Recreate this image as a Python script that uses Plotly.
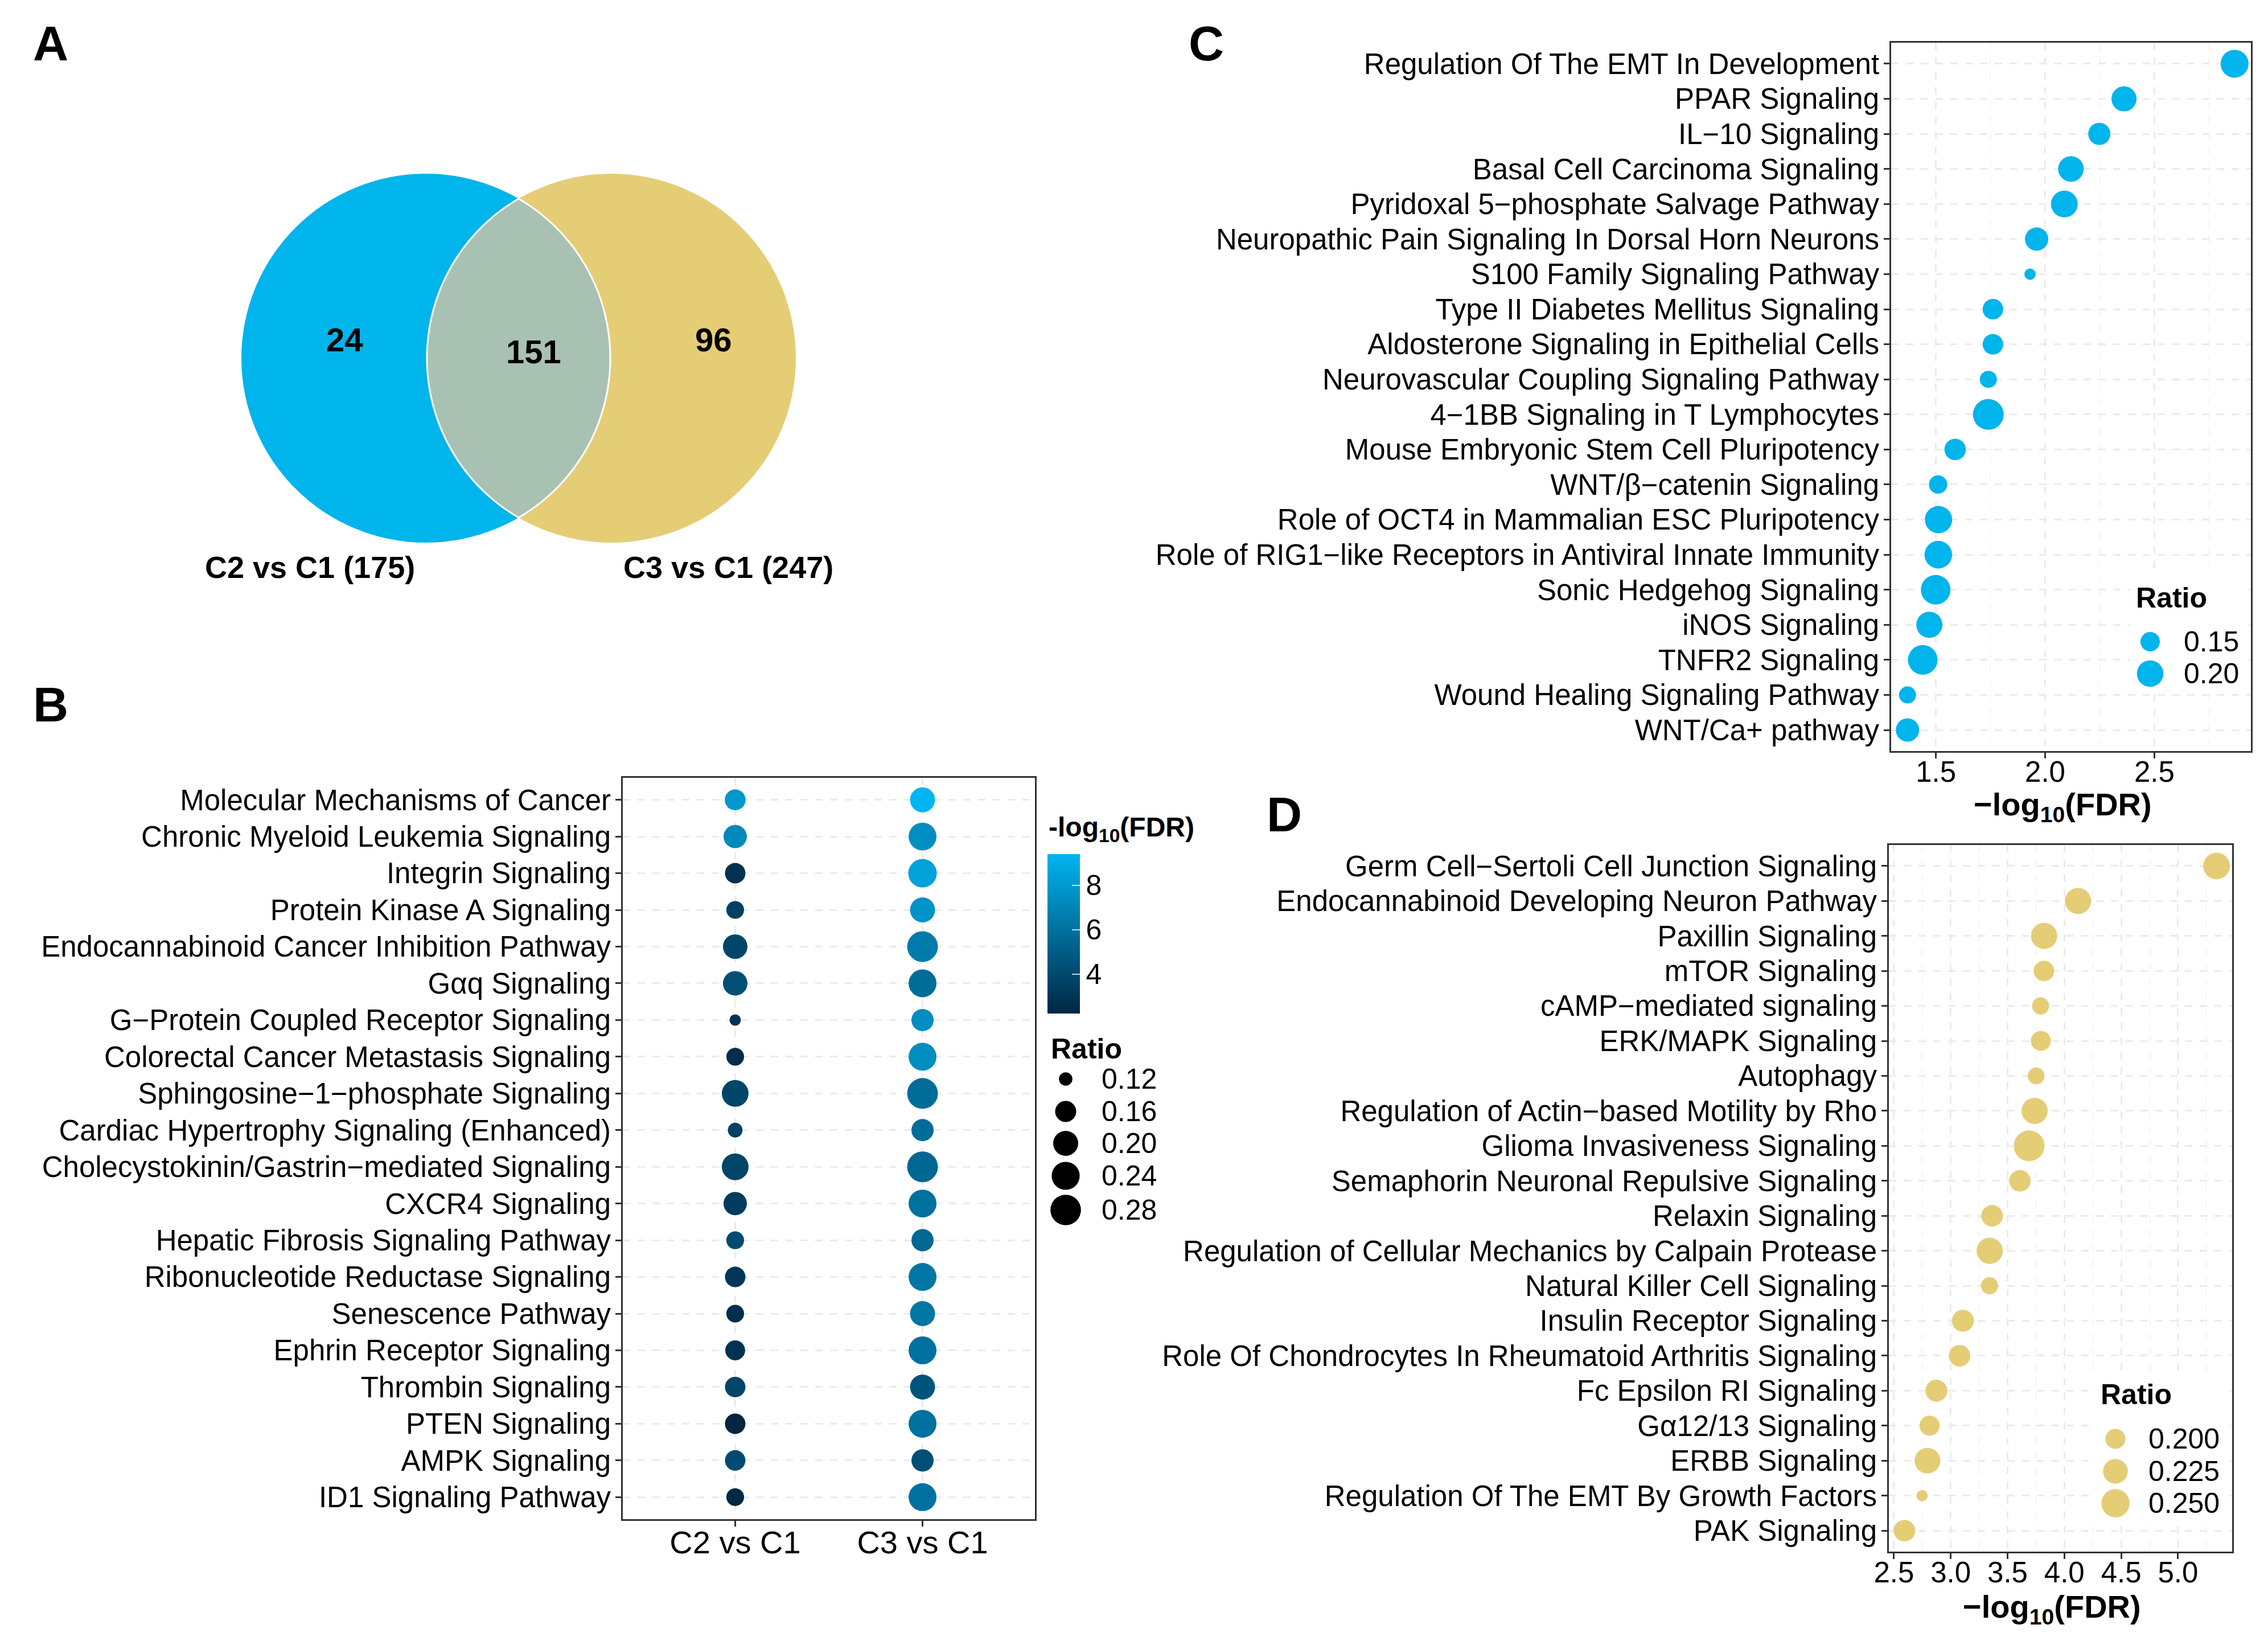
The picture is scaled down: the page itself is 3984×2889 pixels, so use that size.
import numpy as np
import plotly.graph_objects as go

W, H = 3984, 2889
FONT = "Liberation Sans, Arial, sans-serif"

# ---------------- data ----------------
venn_counts = {"only_c2": 24, "both": 151, "only_c3": 96}
venn_sets = ["C2 vs C1 (175)", "C3 vs C1 (247)"]

b_groups = ["C2 vs C1", "C3 vs C1"]
b_paths = [
    "Molecular Mechanisms of Cancer",
    "Chronic Myeloid Leukemia Signaling",
    "Integrin Signaling",
    "Protein Kinase A Signaling",
    "Endocannabinoid Cancer Inhibition Pathway",
    "Gαq Signaling",
    "G−Protein Coupled Receptor Signaling",
    "Colorectal Cancer Metastasis Signaling",
    "Sphingosine−1−phosphate Signaling",
    "Cardiac Hypertrophy Signaling (Enhanced)",
    "Cholecystokinin/Gastrin−mediated Signaling",
    "CXCR4 Signaling",
    "Hepatic Fibrosis Signaling Pathway",
    "Ribonucleotide Reductase Signaling",
    "Senescence Pathway",
    "Ephrin Receptor Signaling",
    "Thrombin Signaling",
    "PTEN Signaling",
    "AMPK Signaling",
    "ID1 Signaling Pathway",
]
b_fdr_c2 = [7.95, 7.20, 2.86, 3.59, 3.83, 4.32, 2.86, 2.62, 3.83, 3.59,
            3.83, 3.35, 4.07, 3.10, 2.62, 2.86, 3.83, 2.23, 4.07, 2.38]
b_fdr_c3 = [9.41, 7.47, 8.44, 7.71, 6.50, 5.77, 7.47, 7.47, 5.77, 5.77,
            5.53, 6.01, 5.53, 6.26, 6.26, 6.01, 4.56, 6.01, 4.32, 6.01]
b_ratio_c2 = [0.158, 0.181, 0.155, 0.136, 0.194, 0.194, 0.118, 0.136, 0.222, 0.123,
              0.222, 0.181, 0.136, 0.155, 0.136, 0.150, 0.155, 0.155, 0.155, 0.136]
b_ratio_c3 = [0.200, 0.238, 0.247, 0.200, 0.283, 0.238, 0.170, 0.238, 0.283, 0.170,
              0.283, 0.238, 0.170, 0.238, 0.200, 0.238, 0.200, 0.238, 0.170, 0.238]
b_color_ticks = [4, 6, 8]
b_ratio_breaks = [0.12, 0.16, 0.20, 0.24, 0.28]
b_ratio_labels = ["0.12", "0.16", "0.20", "0.24", "0.28"]

c_paths = [
    "Regulation Of The EMT In Development",
    "PPAR Signaling",
    "IL−10 Signaling",
    "Basal Cell Carcinoma Signaling",
    "Pyridoxal 5−phosphate Salvage Pathway",
    "Neuropathic Pain Signaling In Dorsal Horn Neurons",
    "S100 Family Signaling Pathway",
    "Type II Diabetes Mellitus Signaling",
    "Aldosterone Signaling in Epithelial Cells",
    "Neurovascular Coupling Signaling Pathway",
    "4−1BB Signaling in T Lymphocytes",
    "Mouse Embryonic Stem Cell Pluripotency",
    "WNT/β−catenin Signaling",
    "Role of OCT4 in Mammalian ESC Pluripotency",
    "Role of RIG1−like Receptors in Antiviral Innate Immunity",
    "Sonic Hedgehog Signaling",
    "iNOS Signaling",
    "TNFR2 Signaling",
    "Wound Healing Signaling Pathway",
    "WNT/Ca+ pathway",
]
c_fdr = [2.867, 2.361, 2.248, 2.118, 2.088, 1.961, 1.931, 1.761, 1.761, 1.740,
         1.740, 1.588, 1.510, 1.512, 1.511, 1.499, 1.470, 1.440, 1.370, 1.370]
c_ratio = [0.214, 0.188, 0.166, 0.192, 0.203, 0.174, 0.130, 0.156, 0.156, 0.140,
           0.245, 0.161, 0.145, 0.208, 0.211, 0.232, 0.197, 0.232, 0.140, 0.174]
c_xticks = [1.5, 2.0, 2.5]
c_ratio_breaks = [0.15, 0.20]
c_ratio_labels = ["0.15", "0.20"]

d_paths = [
    "Germ Cell−Sertoli Cell Junction Signaling",
    "Endocannabinoid Developing Neuron Pathway",
    "Paxillin Signaling",
    "mTOR Signaling",
    "cAMP−mediated signaling",
    "ERK/MAPK Signaling",
    "Autophagy",
    "Regulation of Actin−based Motility by Rho",
    "Glioma Invasiveness Signaling",
    "Semaphorin Neuronal Repulsive Signaling",
    "Relaxin Signaling",
    "Regulation of Cellular Mechanics by Calpain Protease",
    "Natural Killer Cell Signaling",
    "Insulin Receptor Signaling",
    "Role Of Chondrocytes In Rheumatoid Arthritis Signaling",
    "Fc Epsilon RI Signaling",
    "Gα12/13 Signaling",
    "ERBB Signaling",
    "Regulation Of The EMT By Growth Factors",
    "PAK Signaling",
]
d_fdr = [5.339, 4.120, 3.822, 3.820, 3.791, 3.793, 3.752, 3.738, 3.690, 3.609,
         3.364, 3.343, 3.341, 3.107, 3.078, 2.874, 2.814, 2.795, 2.748, 2.593]
d_ratio = [0.238, 0.235, 0.235, 0.202, 0.190, 0.200, 0.189, 0.235, 0.272, 0.207,
           0.207, 0.235, 0.190, 0.209, 0.207, 0.209, 0.200, 0.231, 0.182, 0.207]
d_xticks = [2.5, 3.0, 3.5, 4.0, 4.5, 5.0]
d_ratio_breaks = [0.200, 0.225, 0.250]
d_ratio_labels = ["0.200", "0.225", "0.250"]

# ---------------- styles ----------------
BLUE = "#00B4EC"
YELLOW = "#E5CD76"
LENS = "#A9C1B3"
C_LOW, C_HIGH = "#002642", "#00B5F1"
GRID = "#EBEBEB"
FRAME = "#333333"
DASH = "13px,13px"


def pxx(x):
    return x / W


def pxy(y):
    return 1 - y / H


def dot_size(v, vmin, vmax):
    v = np.asarray(v, float)
    return 19.9 + 34.1 * np.sqrt(np.clip((v - vmin) / (vmax - vmin), 0, 1))


def expand(vals):
    lo, hi = min(vals), max(vals)
    pad = (hi - lo) * 0.05
    return [lo - pad, hi + pad]


fig = go.Figure()

# ---------------- panel B ----------------
b_x = [b_groups[0]] * len(b_paths) + [b_groups[1]] * len(b_paths)
b_y = b_paths + b_paths
b_col = b_fdr_c2 + b_fdr_c3
b_rat = b_ratio_c2 + b_ratio_c3
b_min, b_max = min(b_rat), max(b_rat)
fig.add_trace(go.Scatter(
    x=b_x, y=b_y, mode="markers", xaxis="x", yaxis="y", showlegend=False,
    marker=dict(size=dot_size(b_rat, b_min, b_max), color=b_col,
                colorscale=[[0, C_LOW], [1, C_HIGH]], cmin=min(b_col), cmax=max(b_col),
                line=dict(width=0), opacity=1,
                colorbar=dict(x=pxx(1840), xanchor="left", y=pxy(1640), yanchor="middle",
                              len=280, lenmode="pixels", thickness=57, thicknessmode="pixels",
                              outlinewidth=0, xpad=0, ypad=0, tickvals=b_color_ticks,
                              ticks="inside", ticklen=14, tickwidth=2,
                              tickcolor="rgba(255,255,255,0.75)",
                              tickfont=dict(size=50, family=FONT, color="black"))),
))

# ---------------- panel C ----------------
c_min, c_max = min(c_ratio), max(c_ratio)
fig.add_trace(go.Scatter(
    x=c_fdr, y=c_paths, mode="markers", xaxis="x2", yaxis="y2", showlegend=False,
    marker=dict(size=dot_size(c_ratio, c_min, c_max), color=BLUE, opacity=1,
                line=dict(width=0)),
))

# ---------------- panel D ----------------
d_min, d_max = min(d_ratio), max(d_ratio)
fig.add_trace(go.Scatter(
    x=d_fdr, y=d_paths, mode="markers", xaxis="x3", yaxis="y3", showlegend=False,
    marker=dict(size=dot_size(d_ratio, d_min, d_max), color=YELLOW, opacity=1,
                line=dict(width=0)),
))

# ---------------- legends (overlay pixel axis) ----------------
def white_box(x0, x1, y0, y1):
    fig.add_trace(go.Scatter(x=[x0, x1, x1, x0, x0], y=[y0, y0, y1, y1, y0], mode="lines",
                             fill="toself", fillcolor="white", line=dict(width=0),
                             xaxis="x4", yaxis="y4", showlegend=False, hoverinfo="skip"))


white_box(3742, 3950, 1008, 1218)
white_box(3676, 3914, 2410, 2680)

legend_specs = [
    # breaks, labels, vmin, vmax, color, key_x, key_ys, label_x, title_x, title_y
    (b_ratio_breaks, b_ratio_labels, b_min, b_max, "black", 1872,
     [1895, 1952, 2008, 2065, 2125], 1933, 1844, 1842),
    (c_ratio_breaks, c_ratio_labels, c_min, c_max, BLUE, 3777,
     [1127, 1183], 3834, 3750, 1050),
    (d_ratio_breaks, d_ratio_labels, d_min, d_max, YELLOW, 3716,
     [2527, 2584, 2640], 3772, 3688, 2449),
]

annotations = []
for brk, lab, vmin, vmax, col, kx, kys, lx, tx, ty in legend_specs:
    fig.add_trace(go.Scatter(
        x=[kx] * len(brk), y=kys, mode="markers", xaxis="x4", yaxis="y4", showlegend=False,
        marker=dict(size=dot_size(brk, vmin, vmax), color=col, opacity=1, line=dict(width=0)),
        hoverinfo="skip"))
    for yy, t in zip(kys, lab):
        annotations.append(dict(x=pxx(lx), y=pxy(yy), xref="paper", yref="paper", text=t,
                                showarrow=False, xanchor="left", yanchor="middle",
                                font=dict(size=50, family=FONT, color="black")))
    annotations.append(dict(x=pxx(tx), y=pxy(ty), xref="paper", yref="paper", text="<b>Ratio</b>",
                            showarrow=False, xanchor="left", yanchor="middle",
                            font=dict(size=50, family=FONT, color="black")))

# colorbar title
annotations.append(dict(x=pxx(1840), y=pxy(1456), xref="paper", yref="paper",
                        text="<b>-log<sub>10</sub>(FDR)</b>", showarrow=False,
                        xanchor="left", yanchor="middle",
                        font=dict(size=48, family=FONT, color="black")))

# axis titles for C and D
for (cx, cy) in [(3623, 1416), (3604, 2825)]:
    annotations.append(dict(x=pxx(cx), y=pxy(cy), xref="paper", yref="paper",
                            text="<b>−log<sub>10</sub>(FDR)</b>", showarrow=False,
                            xanchor="center", yanchor="middle",
                            font=dict(size=56, family=FONT, color="black")))

# panel letters
for letter, lx, ly in [("A", 89, 76), ("B", 89, 1237), ("C", 2119, 76), ("D", 2256, 1430)]:
    annotations.append(dict(x=pxx(lx), y=pxy(ly), xref="paper", yref="paper",
                            text=f"<b>{letter}</b>", showarrow=False,
                            xanchor="center", yanchor="middle",
                            font=dict(size=86, family=FONT, color="black")))

# ---------------- panel A: Venn ----------------
R = 324
cl = (748, 629)
cr = (1074, 629)
shapes = []
for (cx, cy), col in [(cl, BLUE), (cr, YELLOW)]:
    shapes.append(dict(type="circle", xref="paper", yref="paper",
                       x0=pxx(cx - R), x1=pxx(cx + R), y0=pxy(cy + R), y1=pxy(cy - R),
                       fillcolor=col, line=dict(width=0), layer="above"))
dd = cr[0] - cl[0]
half = np.degrees(np.arccos((dd / 2) / R))
a1 = np.radians(np.linspace(-half, half, 90))            # right arc of left circle
a2 = np.radians(np.linspace(180 - half, 180 + half, 90))  # left arc of right circle
pts = [(cl[0] + R * np.cos(a), cl[1] + R * np.sin(a)) for a in a1]
pts += [(cr[0] + R * np.cos(a), cr[1] + R * np.sin(a)) for a in a2]
path = "M " + " L ".join(f"{pxx(x):.6f},{pxy(y):.6f}" for x, y in pts) + " Z"
shapes.append(dict(type="path", xref="paper", yref="paper", path=path,
                   fillcolor=LENS, line=dict(color="white", width=3), layer="above"))

for key, (vx, vy) in zip(["only_c2", "both", "only_c3"], [(605, 596), (937, 617), (1253, 596)]):
    annotations.append(dict(x=pxx(vx), y=pxy(vy), xref="paper", yref="paper",
                            text=f"<b>{venn_counts[key]}</b>", showarrow=False,
                            xanchor="center", yanchor="middle",
                            font=dict(size=58, family=FONT, color="black")))
for name, (vx, vy) in zip(venn_sets, [(544, 996), (1279, 996)]):
    annotations.append(dict(x=pxx(vx), y=pxy(vy), xref="paper", yref="paper",
                            text=f"<b>{name}</b>", showarrow=False,
                            xanchor="center", yanchor="middle",
                            font=dict(size=54, family=FONT, color="black")))

# ---------------- axes ----------------
tickfont = dict(size=51, family=FONT, color="black")


def cat_y(domain, cats, anchor):
    return dict(domain=domain, anchor=anchor, type="category", categoryorder="array",
                categoryarray=cats, range=[len(cats) - 0.4, -0.6],
                showgrid=True, gridcolor=GRID, griddash=DASH, gridwidth=2.5,
                showline=True, mirror=True, linecolor=FRAME, linewidth=2.5,
                ticks="outside", ticklen=10, tickwidth=2.5, tickcolor=FRAME,
                tickfont=tickfont, zeroline=False, automargin=False, fixedrange=True,
                ticklabelstandoff=-2)


def num_x(domain, rng, tickv, anchor):
    return dict(domain=domain, anchor=anchor, range=rng, tickvals=tickv,
                ticktext=[f"{t:.1f}" for t in tickv],
                showgrid=True, gridcolor=GRID, griddash=DASH, gridwidth=2.5,
                minor=dict(dtick=0.25, tick0=0, showgrid=True, gridcolor=GRID,
                           griddash=DASH, gridwidth=1.3),
                showline=True, mirror=True, linecolor=FRAME, linewidth=2.5,
                ticks="outside", ticklen=10, tickwidth=2.5, tickcolor=FRAME,
                tickfont=tickfont, zeroline=False, automargin=False, fixedrange=True,
                ticklabelstandoff=-20)


b_xd = [pxx(1094), pxx(1818)]
b_yd = [pxy(2668), pxy(1366)]
c_xd = [pxx(3322), pxx(3954)]
c_yd = [pxy(1319), pxy(75)]
d_xd = [pxx(3318), pxx(3921)]
d_yd = [pxy(2725), pxy(1484)]

fig.update_layout(
    width=W, height=H, margin=dict(l=0, r=0, t=0, b=0),
    paper_bgcolor="white", plot_bgcolor="rgba(0,0,0,0)", template="none",
    showlegend=False, font=dict(family=FONT, color="black"),
    xaxis=dict(domain=b_xd, anchor="y", type="category", categoryorder="array",
               categoryarray=b_groups, range=[-0.6, len(b_groups) - 0.4],
               showgrid=True, gridcolor=GRID, griddash=DASH, gridwidth=2.5,
               showline=True, mirror=True, linecolor=FRAME, linewidth=2.5,
               ticks="outside", ticklen=10, tickwidth=2.5, tickcolor=FRAME,
               tickfont=dict(size=56, family=FONT, color="black"),
               zeroline=False, automargin=False, fixedrange=True, ticklabelstandoff=-20),
    yaxis=cat_y(b_yd, b_paths, "x"),
    xaxis2=num_x(c_xd, expand(c_fdr), c_xticks, "y2"),
    yaxis2=cat_y(c_yd, c_paths, "x2"),
    xaxis3=num_x(d_xd, expand(d_fdr), d_xticks, "y3"),
    yaxis3=cat_y(d_yd, d_paths, "x3"),
    xaxis4=dict(domain=[0, 1], anchor="y4", range=[0, W], visible=False, fixedrange=True),
    yaxis4=dict(domain=[0, 1], anchor="x4", range=[H, 0], visible=False, fixedrange=True),
    annotations=annotations,
    shapes=shapes,
)

fig.write_html("out.html", config={"displayModeBar": False},
               post_script="document.body.style.margin='0';document.body.style.overflow='hidden';")
